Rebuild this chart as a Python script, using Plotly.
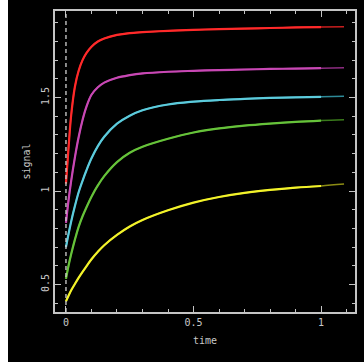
import plotly.graph_objects as go

# time grid
time = [0, 0.01, 0.02, 0.035, 0.05, 0.065, 0.08, 0.1, 0.125, 0.15, 0.2, 0.25,
        0.3, 0.4, 0.5, 0.6, 0.7, 0.8, 0.9, 1.0, 1.09]

red = [1.04, 1.23, 1.40, 1.558, 1.645, 1.70, 1.738, 1.772, 1.80, 1.816, 1.835, 1.845,
       1.85, 1.857, 1.862, 1.866, 1.869, 1.872, 1.875, 1.877, 1.879]
magenta = [0.83, 0.95, 1.05, 1.18, 1.29, 1.38, 1.45, 1.515, 1.555, 1.58, 1.606, 1.620,
           1.629, 1.638, 1.643, 1.647, 1.650, 1.653, 1.655, 1.657, 1.659]
cyan = [0.70, 0.77, 0.835, 0.92, 0.995, 1.055, 1.11, 1.175, 1.24, 1.29, 1.36, 1.403,
        1.432, 1.463, 1.478, 1.487, 1.493, 1.498, 1.501, 1.504, 1.507]
green = [0.53, 0.60, 0.66, 0.74, 0.81, 0.865, 0.912, 0.97, 1.03, 1.08, 1.155, 1.205,
         1.237, 1.28, 1.313, 1.335, 1.35, 1.361, 1.37, 1.377, 1.381]
yellow = [0.41, 0.44, 0.468, 0.503, 0.537, 0.568, 0.597, 0.635, 0.675, 0.71, 0.765, 0.81,
          0.845, 0.897, 0.938, 0.968, 0.99, 1.006, 1.018, 1.027, 1.037]

series = [
    ("red", red, "#ff2a2a", "#c81e1e"),
    ("magenta", magenta, "#c848b4", "#8c2c80"),
    ("cyan", cyan, "#5ccbdc", "#2e8a98"),
    ("green", green, "#66c23a", "#3a7a1c"),
    ("yellow", yellow, "#f2f22a", "#8c8c14"),
]

DATA_END = 1.0

fig = go.Figure()
for name, ys, col, fitcol in series:
    fig.add_trace(go.Scatter(x=time, y=ys, mode="lines",
                             line=dict(color=fitcol, width=1.5, shape="spline", smoothing=1.0),
                             showlegend=False, hoverinfo="skip"))
    xs = [t for t in time if t <= DATA_END]
    yd = ys[:len(xs)]
    fig.add_trace(go.Scatter(x=xs, y=yd, mode="lines",
                             line=dict(color=col, width=2.2, shape="spline", smoothing=1.0),
                             showlegend=False, hoverinfo="skip"))

# dashed zero line
fig.add_shape(type="line", xref="x", yref="paper", x0=0, x1=0, y0=0, y1=1,
              line=dict(color="#d0d0d0", width=1.3, dash="4px,3px"))

W, H = 364, 362
ml, mr, mt, mb = 55, 9, 11, 50
pw, ph = W - ml - mr, H - mt - mb
# white strip at left edge
fig.add_shape(type="rect", xref="paper", yref="paper",
              x0=-ml / pw - 0.01, x1=-(ml - 8) / pw, y0=-mb / ph - 0.01, y1=1 + mt / ph + 0.01,
              fillcolor="white", line=dict(width=0), layer="above")

axcol = "#c4c4c4"
font = dict(family="DejaVu Sans Mono", size=10, color="#c8c8c8")

fig.update_layout(
    width=W, height=H,
    margin=dict(l=ml, r=mr, t=mt, b=mb, autoexpand=False),
    paper_bgcolor="black", plot_bgcolor="black",
    font=font,
    showlegend=False,
    xaxis=dict(range=[-0.043, 1.133], showgrid=False, zeroline=False, automargin=False,
               tickvals=[0, 0.5, 1], ticktext=["0", "0.5", "1"],
               ticks="inside", ticklen=6, tickwidth=1.3, tickcolor=axcol,
               showline=True, linecolor=axcol, linewidth=1.5, mirror="allticks",
               minor=dict(dtick=0.1, tick0=0, ticks="inside", ticklen=3.5, tickcolor=axcol, tickwidth=1.2),
               title=dict(text="time", font=font, standoff=10),
               tickfont=font),
    yaxis=dict(range=[0.353, 1.963], showgrid=False, zeroline=False, automargin=False,
               tickvals=[0.5, 1, 1.5], ticktext=["0.5", "1", "1.5"], tickangle=-90,
               ticks="inside", ticklen=6, tickwidth=1.3, tickcolor=axcol,
               showline=True, linecolor=axcol, linewidth=1.5, mirror="allticks",
               minor=dict(dtick=0.1, tick0=0, ticks="inside", ticklen=3.5, tickcolor=axcol, tickwidth=1.2),
               title=dict(text="signal", font=font, standoff=8),
               tickfont=font),
)

fig.write_html("out.html", config={"displayModeBar": False},
               post_script="document.body.style.margin='0';document.body.style.overflow='hidden';")
